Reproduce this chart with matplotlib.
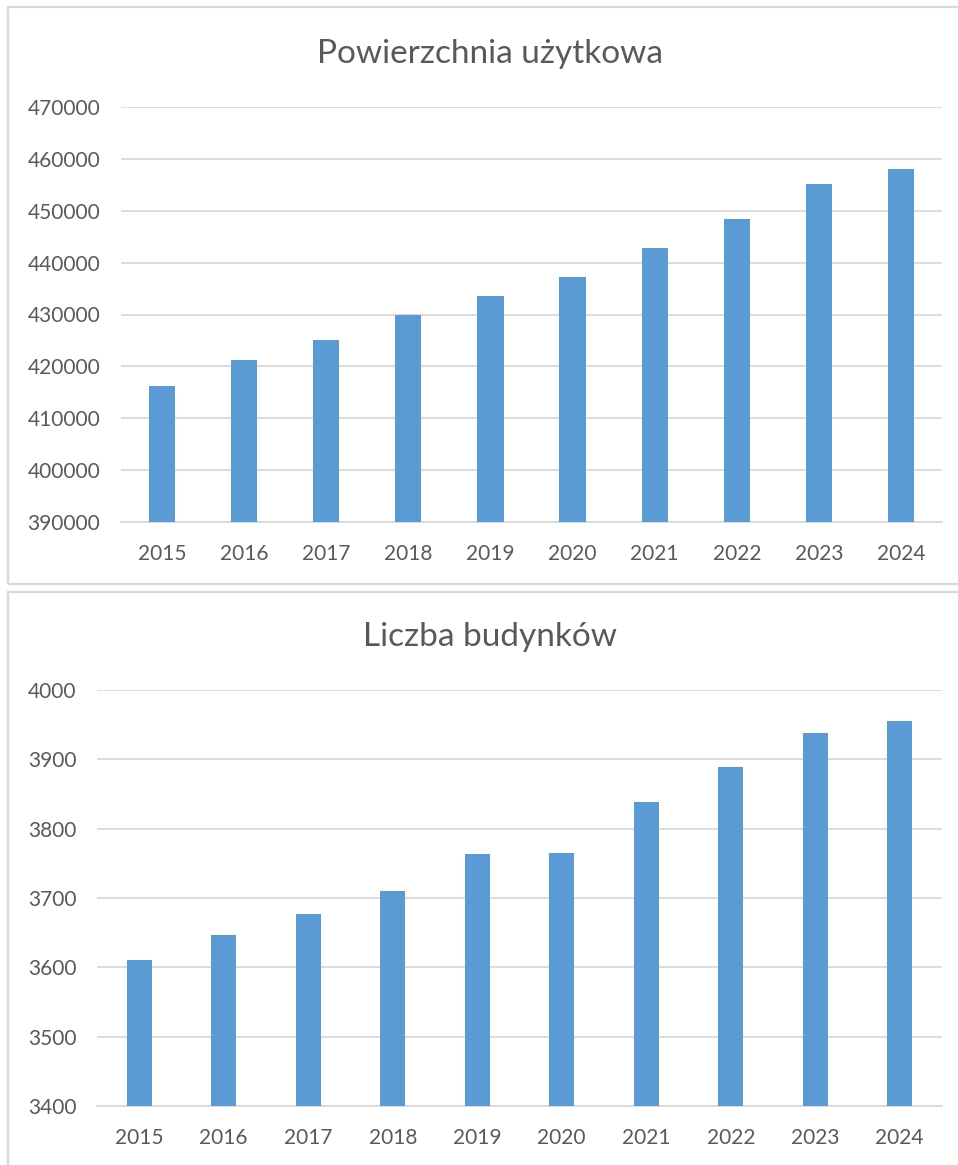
import numpy as np
import matplotlib
matplotlib.use('Agg')
import matplotlib.pyplot as plt
from matplotlib.patches import Rectangle

plt.rcParams['font.family'] = ['Lato', 'DejaVu Sans']

lata = ['2015', '2016', '2017', '2018', '2019', '2020', '2021', '2022', '2023', '2024']
powierzchnia = [416300, 421200, 425100, 429900, 433500, 437300, 442900, 448400, 455100, 458000]
budynki = [3610, 3647, 3677, 3710, 3763, 3765, 3838, 3889, 3938, 3956]

W, H = 958, 1165
BLUE = '#5B9BD5'
TXT = '#595959'
GRID = '#D9D9D9'

fig = plt.figure(figsize=(W / 100, H / 100), dpi=100)
fig.patch.set_facecolor('white')

# ramki wykresow (jak w Excelu)
def px_rect(x0, y0, x1, y1):
    return Rectangle((x0 / W, 1 - y1 / H), (x1 - x0) / W, (y1 - y0) / H,
                     transform=fig.transFigure, fill=False, edgecolor=GRID,
                     linewidth=1.6, zorder=0)

fig.patches.append(px_rect(8, 7, 965, 584))
fig.patches.append(px_rect(8, 592, 965, 1175))


def px_axes(x0, y0, x1, y1):
    return fig.add_axes([x0 / W, 1 - y1 / H, (x1 - x0) / W, (y1 - y0) / H])


def rysuj(ax, dane, ymin, ymax, krok, szer, pad_y):
    idx = np.arange(len(dane))
    ax.bar(idx, np.array(dane) - ymin, bottom=ymin, width=szer, color=BLUE, zorder=3)
    ax.set_xlim(-0.5, len(dane) - 0.5)
    ax.set_ylim(ymin, ymax)
    ax.set_yticks(np.arange(ymin, ymax + 1, krok))
    ax.set_xticks(idx)
    ax.set_xticklabels(lata)
    ax.grid(axis='y', color=GRID, linewidth=1.3, zorder=0)
    ax.set_axisbelow(True)
    for s in ['top', 'right', 'left']:
        ax.spines[s].set_visible(False)
    ax.spines['bottom'].set_color(GRID)
    ax.spines['bottom'].set_linewidth(1.3)
    ax.tick_params(axis='both', length=0, labelsize=15, labelcolor=TXT)
    ax.tick_params(axis='y', pad=pad_y)
    ax.tick_params(axis='x', pad=16)
    ax.patch.set_alpha(0)


ax1 = px_axes(121, 107, 942, 522)
rysuj(ax1, powierzchnia, 390000, 470000, 10000, 0.32, 15)
fig.text(490 / W, 1 - 54 / H, 'Powierzchnia użytkowa', ha='center', va='center',
         fontsize=24, color=TXT)

ax2 = px_axes(97, 690, 942, 1106)
rysuj(ax2, budynki, 3400, 4000, 100, 0.30, 15)
fig.text(490 / W, 1 - 637 / H, 'Liczba budynków', ha='center', va='center',
         fontsize=24, color=TXT)

plt.savefig('out.png', dpi=100)
